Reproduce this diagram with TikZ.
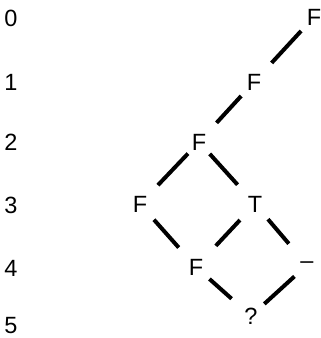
\documentclass[tikz,border=0pt]{standalone}
\usepackage{fontspec}
\setmainfont{Liberation Sans}
\begin{document}
\begin{tikzpicture}[x=1pt,y=-1pt,
  lab/.style={inner sep=0pt,outer sep=0pt,font=\fontsize{23.5}{23.5}\selectfont},
  edge/.style={line width=4pt,shorten <=19pt,shorten >=26pt}]
\useasboundingbox (0,0) rectangle (321,338);
% row labels
\node[lab] (r0) at (11,18) {0};
\node[lab] (r1) at (11,82) {1};
\node[lab] (r2) at (11,142) {2};
\node[lab] (r3) at (11,205) {3};
\node[lab] (r4) at (11,268) {4};
\node[lab] (r5) at (11,325.5) {5};
% tree nodes
\node[lab] (a) at (314,17) {F};
\node[lab] (b) at (254,82) {F};
\node[lab] (c) at (199,142) {F};
\node[lab] (d) at (140,204) {F};
\node[lab] (e) at (255,204) {T};
\node[lab] (f) at (196,267) {F};
\node[lab] (g) at (307,265) {–};
\node[lab] (h) at (251,316) {?};
% edges
\draw[edge] (a.center) -- (b.center);
\draw[edge] (b.center) -- (c.center);
\draw[edge,shorten <=16pt] (c.center) -- (d.center);
\draw[edge,shorten <=16pt] (c.center) -- (e.center);
\draw[edge,shorten <=21pt] (d.center) -- (f.center);
\draw[edge,shorten <=22pt,shorten >=29pt] (e.center) -- (f.center);
\draw[edge,shorten <=20pt,shorten >=28pt] (e.center) -- (g.center);
\draw[edge,shorten <=18pt] (f.center) -- (h.center);
\draw[edge,shorten <=17pt,shorten >=18pt] (g.center) -- (h.center);
\end{tikzpicture}
\end{document}
